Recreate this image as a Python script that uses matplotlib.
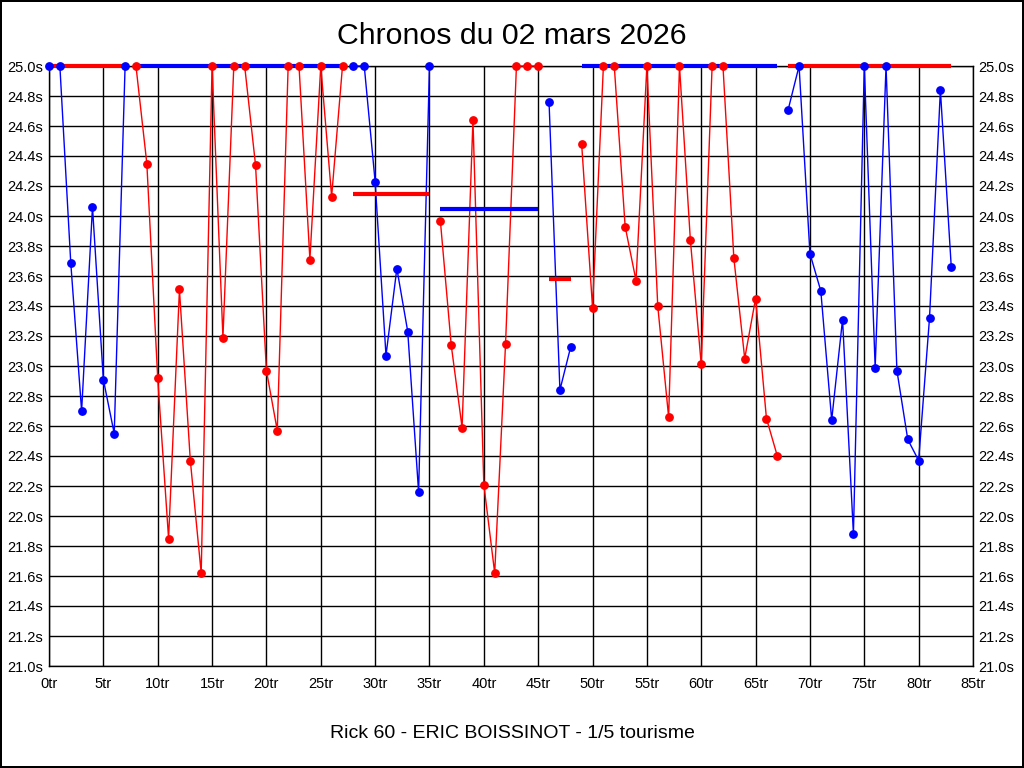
import matplotlib
matplotlib.use("Agg")
import matplotlib.pyplot as plt
from matplotlib.ticker import MultipleLocator, FuncFormatter

plt.rcParams["font.family"] = ["Liberation Sans", "DejaVu Sans"]

# lap times per stint (values above 25s are clipped to 25.0 on the chart)
stint_laps = [
    list(range(0, 8)),
    list(range(8, 28)),
    list(range(28, 36)),
    list(range(36, 46)),
    list(range(46, 49)),
    list(range(49, 68)),
    list(range(68, 84)),
]
stint_times = [
    [25.0, 25.0, 23.69, 22.70, 24.06, 22.91, 22.55, 25.0],
    [25.0, 24.35, 22.92, 21.85, 23.51, 22.37, 21.62, 25.0, 23.19, 25.0,
     25.0, 24.34, 22.97, 22.57, 25.0, 25.0, 23.71, 25.0, 24.13, 25.0],
    [25.0, 25.0, 24.23, 23.07, 23.65, 23.23, 22.16, 25.0],
    [23.97, 23.14, 22.59, 24.64, 22.21, 21.62, 23.15, 25.0, 25.0, 25.0],
    [24.76, 22.84, 23.13],
    [24.48, 23.39, 25.0, 25.0, 23.93, 23.57, 25.0, 23.40, 22.66, 25.0,
     23.84, 23.01, 25.0, 25.0, 23.72, 23.05, 23.45, 22.65, 22.40],
    [24.71, 25.0, 23.75, 23.50, 22.64, 23.31, 21.88, 25.0, 22.99, 25.0,
     22.97, 22.51, 22.37, 23.32, 24.84, 23.66],
]
stint_colors = ["blue", "red", "blue", "red", "blue", "red", "blue"]
# stint average (clipped), drawn in the other colour
stint_avg = [25.0, 25.0, 24.145, 24.05, 23.58, 25.0, 25.0]
avg_colors = ["red", "blue", "red", "blue", "red", "blue", "red"]

fig = plt.figure(figsize=(10.24, 7.68), dpi=100)
fig.patch.set_edgecolor("black")
fig.patch.set_linewidth(1.5)
ax = fig.add_axes([49 / 1024, 1 - 666 / 768, 924 / 1024, 600 / 768])

for laps, times, col in zip(stint_laps, stint_times, stint_colors):
    ax.plot(laps, times, color=col, lw=1.0, zorder=3, clip_on=False)

for laps, avg, col in zip(stint_laps, stint_avg, avg_colors):
    ax.plot([laps[0], laps[-1]], [avg, avg], color=col, lw=3, zorder=4,
            solid_capstyle="butt", clip_on=False)

for laps, times, col in zip(stint_laps, stint_times, stint_colors):
    ax.plot(laps, times, "o", color=col, ms=5.3, zorder=5, clip_on=False)

ax.set_xlim(0, 85)
ax.set_ylim(21.0, 25.0)
ax.xaxis.set_major_locator(MultipleLocator(5))
ax.yaxis.set_major_locator(MultipleLocator(0.2))
ax.xaxis.set_major_formatter(FuncFormatter(lambda v, p: f"{int(round(v))}tr"))
ax.yaxis.set_major_formatter(FuncFormatter(lambda v, p: f"{v:.1f}s"))
ax.grid(True, color="black", lw=1.0)
ax.set_axisbelow(True)
for s in ax.spines.values():
    s.set_color("black")
    s.set_linewidth(1.0)
ax.tick_params(axis="both", length=0, labelsize=10.5, colors="black")
ax.tick_params(axis="y", pad=4, labelright=True, right=True)
ax.tick_params(axis="x", pad=8)

fig.text(0.5, 1 - 36 / 768, "Chronos du 02 mars 2026", ha="center",
         va="center", fontsize=21.8)
fig.text(0.5, 1 - 734 / 768, "Rick 60 - ERIC BOISSINOT - 1/5 tourisme",
         ha="center", va="center", fontsize=14)

fig.savefig("out.png", dpi=100, edgecolor=fig.get_edgecolor())
